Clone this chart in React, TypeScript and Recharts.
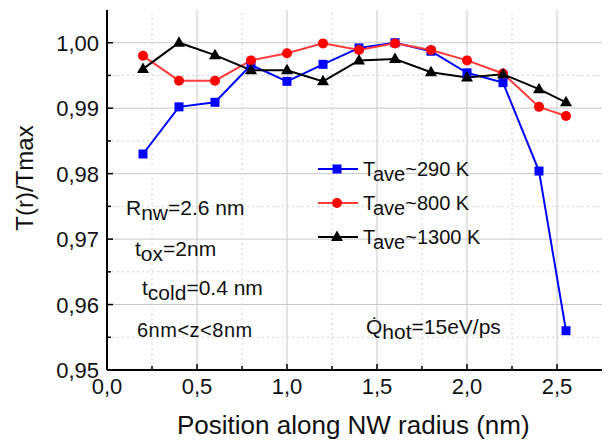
import {
  LineChart,
  Line,
  XAxis,
  YAxis,
  CartesianGrid,
  ReferenceLine,
  Legend,
} from "recharts";

// radial position (nm) and normalised temperature T(r)/Tmax
const positions = [0.2, 0.4, 0.6, 0.8, 1.0, 1.2, 1.4, 1.6, 1.8, 2.0, 2.2, 2.4, 2.55];
const tAve290 = [0.983, 0.9902, 0.9909, 0.9966, 0.9941, 0.9967, 0.9992, 1.0, 0.9987, 0.9954, 0.9939, 0.9804, 0.956];
const tAve800 = [0.998, 0.9942, 0.9942, 0.9973, 0.9984, 0.9999, 0.9989, 0.9999, 0.9989, 0.9973, 0.9953, 0.9902, 0.9888];
const tAve1300 = [0.996, 1.0, 0.9981, 0.9958, 0.9958, 0.9941, 0.9973, 0.9975, 0.9955, 0.9947, 0.9952, 0.9929, 0.9909];

const xTicks = [0, 0.25, 0.5, 0.75, 1.0, 1.25, 1.5, 1.75, 2.0, 2.25, 2.5];
const yTicks = [0.95, 0.955, 0.96, 0.965, 0.97, 0.975, 0.98, 0.985, 0.99, 0.995, 1.0];
const xMajorGrid = [0.5, 1.0, 1.5, 2.0, 2.5];
const yMajorGrid = [0.96, 0.97, 0.98, 0.99, 1.0];
const xMinorGrid = [0.25, 0.75, 1.25, 1.75, 2.25];
const yMinorGrid = [0.955, 0.965, 0.975, 0.985, 0.995];

const FONT = "'Liberation Sans', Arial, sans-serif";
const W = 608;
const H = 442;

const chartData = positions.map((r, i) => ({
  r,
  t290: tAve290[i],
  t800: tAve800[i],
  t1300: tAve1300[i],
}));

const isMajor = (v: number, step: number) => Math.abs(v / step - Math.round(v / step)) < 1e-6;

function AxisTick(props: any) {
  const { x, y, payload, side } = props;
  const v = payload.value as number;
  const horizontal = side === "bottom" || side === "top";
  const major = horizontal ? isMajor(v, 0.5) : isMajor(v, 0.01);
  const len = major ? 6 : 4;
  let line;
  if (side === "bottom") line = <line x1={x} y1={y} x2={x} y2={y - len} stroke="#000" strokeWidth={1.5} />;
  else if (side === "top") line = <line x1={x} y1={y} x2={x} y2={y + len} stroke="#000" strokeWidth={1.5} />;
  else if (side === "left") line = <line x1={x} y1={y} x2={x + len} y2={y} stroke="#000" strokeWidth={1.5} />;
  else line = <line x1={x} y1={y} x2={x - len} y2={y} stroke="#000" strokeWidth={1.5} />;

  let label = null;
  if (major && side === "bottom") {
    label = (
      <text x={x} y={y + 24} textAnchor="middle" fontSize={22} fontFamily={FONT} fill="#111">
        {v.toFixed(1).replace(".", ",")}
      </text>
    );
  } else if (major && side === "left") {
    label = (
      <text x={x - 8} y={y + 8} textAnchor="end" fontSize={22} fontFamily={FONT} fill="#111">
        {v.toFixed(2).replace(".", ",")}
      </text>
    );
  }
  return (
    <g>
      {line}
      {label}
    </g>
  );
}

function SquareDot({ cx, cy }: any) {
  return <rect x={cx - 4.5} y={cy - 4.5} width={9} height={9} fill="#0000ff" />;
}
function CircleDot({ cx, cy }: any) {
  return <circle cx={cx} cy={cy} r={5} fill="#ff0000" />;
}
function TriangleDot({ cx, cy }: any) {
  return <polygon points={`${cx},${cy - 6.5} ${cx - 6},${cy + 4} ${cx + 6},${cy + 4}`} fill="#000" />;
}

const SERIES = [
  { key: "t290", label: "~290 K", color: "#0000ff", line: "#0000ff", Dot: SquareDot },
  { key: "t800", label: "~800 K", color: "#ff0000", line: "#ff3b3b", Dot: CircleDot },
  { key: "t1300", label: "~1300 K", color: "#000", line: "#000", Dot: TriangleDot },
];

const sub = (s: string) => <span style={{ position: "relative", top: 5 }}>{s}</span>;

function LegendBox() {
  return (
    <div style={{ fontFamily: FONT, fontSize: 20, color: "#111" }}>
      {SERIES.map((s) => (
        <div key={s.key} style={{ display: "flex", alignItems: "center", height: 34 }}>
          <svg width={40} height={20}>
            <line x1={0} y1={10} x2={40} y2={10} stroke={s.line} strokeWidth={2} />
            <s.Dot cx={19} cy={10} />
          </svg>
          <span style={{ marginLeft: 5, lineHeight: 1, whiteSpace: "nowrap" }}>
            T{sub("ave")}
            {s.label}
          </span>
        </div>
      ))}
    </div>
  );
}

const note = (left: number, top: number, size: number, content: any, spacing = 0) => (
  <div
    style={{
      position: "absolute",
      left,
      top,
      fontFamily: FONT,
      fontSize: size,
      lineHeight: 1,
      letterSpacing: spacing,
      whiteSpace: "nowrap",
      color: "#111",
    }}
  >
    {content}
  </div>
);

export default function App() {
  return (
    <div style={{ position: "absolute", left: 0, top: 0, width: W, height: H, background: "#fff" }}>
      <LineChart width={W} height={H} data={chartData} margin={{ top: 10, right: 6, bottom: 0, left: 0 }}>
        <CartesianGrid
          stroke="#c8c8c8"
          strokeWidth={1}
          horizontalValues={yMajorGrid}
          verticalValues={xMajorGrid}
        />
        {xMinorGrid.map((v) => (
          <ReferenceLine key={`vx${v}`} x={v} stroke="#d4d4d4" strokeDasharray="2 3" />
        ))}
        {yMinorGrid.map((v) => (
          <ReferenceLine key={`hy${v}`} y={v} stroke="#d4d4d4" strokeDasharray="2 3" />
        ))}
        <XAxis
          dataKey="r"
          type="number"
          domain={[0, 2.75]}
          ticks={xTicks}
          interval={0}
          height={72}
          tickSize={0}
          tickMargin={0}
          tickLine={false}
          axisLine={{ stroke: "#000", strokeWidth: 2 }}
          tick={(p: any) => <AxisTick {...p} side="bottom" />}
        />
        <XAxis
          xAxisId="top"
          orientation="top"
          type="number"
          domain={[0, 2.75]}
          allowDataOverflow
          ticks={xTicks}
          interval={0}
          height={0}
          tickSize={0}
          tickMargin={0}
          tickLine={false}
          axisLine={{ stroke: "#000", strokeWidth: 2 }}
          tick={(p: any) => <AxisTick {...p} side="top" />}
        />
        <YAxis
          type="number"
          domain={[0.95, 1.005]}
          allowDataOverflow
          ticks={yTicks}
          interval={0}
          width={107}
          tickSize={0}
          tickMargin={0}
          tickLine={false}
          axisLine={{ stroke: "#000", strokeWidth: 2 }}
          tick={(p: any) => <AxisTick {...p} side="left" />}
        />
        <YAxis
          yAxisId="right"
          orientation="right"
          type="number"
          domain={[0.95, 1.005]}
          allowDataOverflow
          ticks={yTicks}
          interval={0}
          width={0}
          tickSize={0}
          tickMargin={0}
          tickLine={false}
          axisLine={{ stroke: "#000", strokeWidth: 2 }}
          tick={(p: any) => <AxisTick {...p} side="right" />}
        />
        {SERIES.map((s) => (
          <Line
            key={s.key}
            dataKey={s.key}
            stroke={s.line}
            strokeWidth={2}
            dot={(p: any) => <s.Dot key={`${s.key}${p.index}`} cx={p.cx} cy={p.cy} />}
            activeDot={false}
            isAnimationActive={false}
          />
        ))}
        <Legend
          layout="vertical"
          align="center"
          verticalAlign="middle"
          content={() => <LegendBox />}
          wrapperStyle={{ left: 318, top: 152, width: "auto" }}
        />
      </LineChart>

      {/* axis titles */}
      {note(177, 412, 26, "Position along NW radius (nm)")}
      <div
        style={{
          position: "absolute",
          left: 25,
          top: 178,
          transform: "translate(-50%, -50%) rotate(-90deg)",
          fontFamily: FONT,
          fontSize: 24,
          lineHeight: 1,
          whiteSpace: "nowrap",
          color: "#111",
        }}
      >
        T(r)/Tmax
      </div>

      {/* annotations */}
      {note(126, 197, 21, <>R{sub("nw")}=2.6 nm</>)}
      {note(135, 238, 21, <>t{sub("ox")}=2nm</>)}
      {note(142, 277, 21, <>t{sub("cold")}=0.4 nm</>)}
      {note(137, 320, 20, "6nm<z<8nm", 0.5)}
      {note(366, 316, 21, <>Q̇{sub("hot")}=15eV/ps</>)}
    </div>
  );
}
